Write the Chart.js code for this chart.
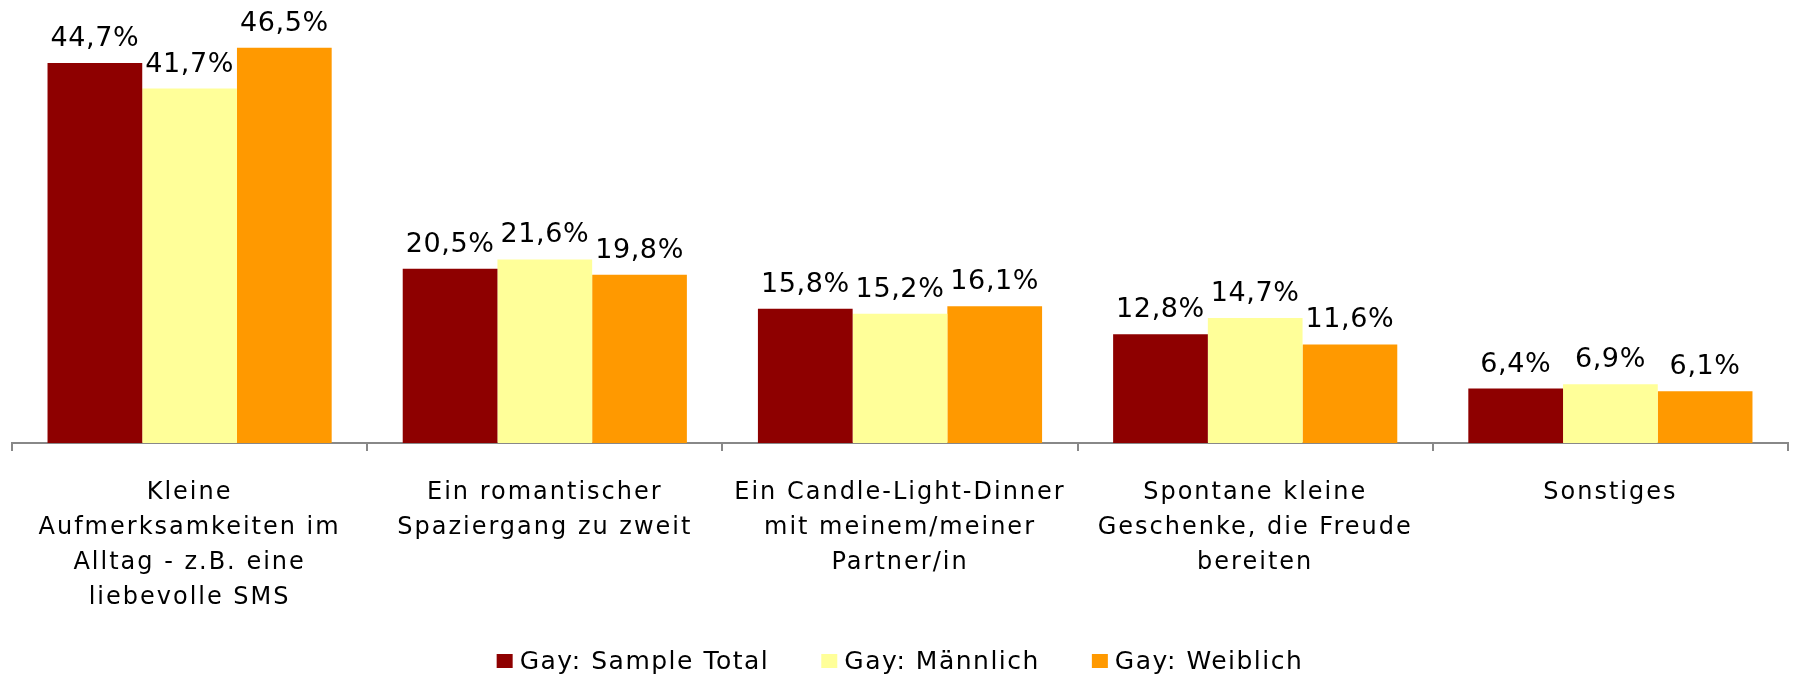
<!DOCTYPE html>
<html>
<head>
<meta charset="utf-8">
<script src="https://cdn.jsdelivr.net/npm/chart.js@4/dist/chart.umd.min.js"></script>
<style>
  html, body { margin:0; padding:0; background:#fff; }
  #wrap { width:1793px; height:677px; position:relative; }
</style>
</head>
<body>
<div id="wrap"><canvas id="c"></canvas></div>
<script>
const categories = [
  ['Kleine', 'Aufmerksamkeiten im', 'Alltag - z.B. eine', 'liebevolle SMS'],
  ['Ein romantischer', 'Spaziergang zu zweit'],
  ['Ein Candle-Light-Dinner', 'mit meinem/meiner', 'Partner/in'],
  ['Spontane kleine', 'Geschenke, die Freude', 'bereiten'],
  ['Sonstiges']
];
const seriesNames = ['Gay: Sample Total', 'Gay: Männlich', 'Gay: Weiblich'];
const seriesColors = ['#8E0000', '#FFFF99', '#FF9900'];
const sampleTotal = [44.7, 20.5, 15.8, 12.8, 6.4];
const maennlich   = [41.7, 21.6, 15.2, 14.7, 6.9];
const weiblich    = [46.5, 19.8, 16.1, 11.6, 6.1];

const fmtPct = v => v.toFixed(1).replace('.', ',') + '%';

// the original text is set loosely, so widen canvas text a bit
const loosen = {
  id: 'loosen',
  beforeDraw(chart){ chart.ctx.letterSpacing = '2px'; }
};

// value labels above each bar
const valueLabels = {
  id: 'valueLabels',
  afterDatasetsDraw(chart){
    const ctx = chart.ctx;
    ctx.save();
    ctx.letterSpacing = '0.6px';
    ctx.font = '27px "DejaVu Sans"';
    ctx.fillStyle = '#000';
    ctx.textAlign = 'center';
    ctx.textBaseline = 'alphabetic';
    chart.data.datasets.forEach((ds, i) => {
      chart.getDatasetMeta(i).data.forEach((bar, j) => {
        ctx.fillText(fmtPct(ds.data[j]), bar.x, bar.y - 17);
      });
    });
    ctx.restore();
  }
};

// legend drawn below the axis labels, tight box/text spacing
const bottomLegend = {
  id: 'bottomLegend',
  afterDraw(chart){
    const ctx = chart.ctx;
    const box = 16, gap = 7, itemGap = 52, y = 661;
    ctx.save();
    ctx.letterSpacing = '1.5px';
    ctx.font = '25px "DejaVu Sans"';
    ctx.textBaseline = 'middle';
    ctx.textAlign = 'left';
    const items = chart.data.datasets.map(ds => ({ text: ds.label, color: ds.backgroundColor, w: ctx.measureText(ds.label).width }));
    const total = items.reduce((s, it) => s + box + gap + it.w, 0) + itemGap * (items.length - 1);
    const ca = chart.chartArea;
    let x = (ca.left + ca.right) / 2 - total / 2;
    items.forEach(it => {
      ctx.fillStyle = it.color;
      ctx.fillRect(x, y - 7, box, 14);
      ctx.fillStyle = '#000';
      ctx.fillText(it.text, x + box + gap, y + 1);
      x += box + gap + it.w + itemGap;
    });
    ctx.restore();
  }
};

new Chart(document.getElementById('c'), {
  type: 'bar',
  data: {
    labels: categories,
    datasets: [
      { label: seriesNames[0], data: sampleTotal, backgroundColor: seriesColors[0] },
      { label: seriesNames[1], data: maennlich,   backgroundColor: seriesColors[1] },
      { label: seriesNames[2], data: weiblich,    backgroundColor: seriesColors[2] },
    ]
  },
  options: {
    responsive: true, maintainAspectRatio: false, animation: false,
    layout: { padding: { left: 12, right: 5, top: 18, bottom: 54 } },
    datasets: { bar: { categoryPercentage: 0.8, barPercentage: 1.0 } },
    plugins: { legend: { display: false }, tooltip: { enabled: false } },
    scales: {
      x: {
        afterFit: s => { s.height = 180; },
        grid: { display: true, drawOnChartArea: false, drawTicks: true, tickLength: 8, color: '#888', lineWidth: 2, offset: true },
        border: { display: true, color: '#888', width: 2 },
        ticks: { color: '#000', padding: 24, maxRotation: 0, autoSkip: false,
                 font: { family: 'DejaVu Sans', size: 24, lineHeight: 35/24 } }
      },
      y: { display: false, min: 0, max: 50 }
    }
  },
  plugins: [loosen, valueLabels, bottomLegend]
});
</script>
</body>
</html>
